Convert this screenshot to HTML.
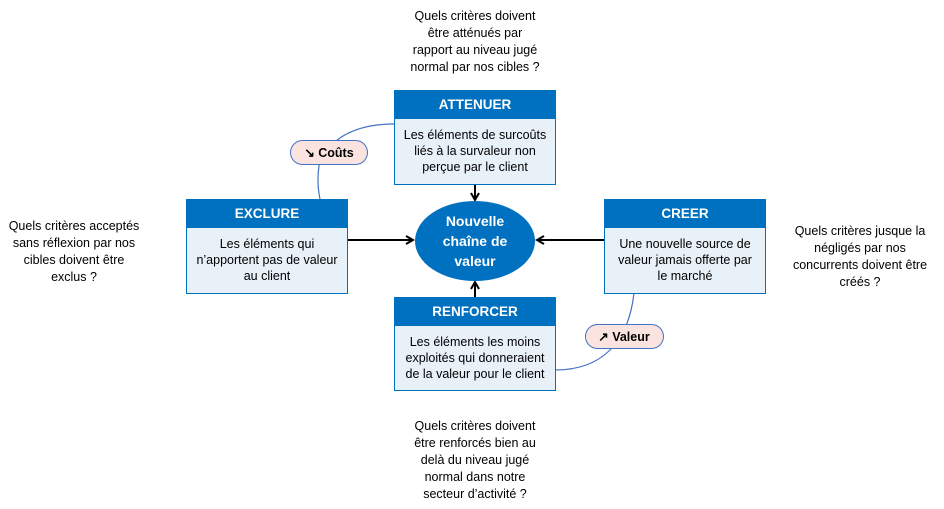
<!DOCTYPE html>
<html><head><meta charset="utf-8"><style>
html,body{margin:0;padding:0;background:#fff;}
svg{display:block;font-family:"Liberation Sans",sans-serif;}
.q{font-size:12.5px;fill:#000;text-anchor:middle;}
.h{font-size:13.5px;font-weight:bold;fill:#fff;text-anchor:middle;}
.b{font-size:12.5px;fill:#000;text-anchor:middle;}
</style></head><body>
<svg width="944" height="509" viewBox="0 0 944 509" xmlns="http://www.w3.org/2000/svg">
<defs><marker id="ar" markerWidth="10" markerHeight="10" refX="8" refY="5" orient="auto" markerUnits="userSpaceOnUse"><path d="M1,1 L8,5 L1,9" fill="none" stroke="#000" stroke-width="2"/></marker></defs>
<!-- curves -->
<path d="M394,124 Q340,124 320,160 Q316,180 320,199" fill="none" stroke="#4472c4" stroke-width="1.2"/>
<path d="M634,293 Q630,330 610,350 Q590,370 555,370" fill="none" stroke="#4472c4" stroke-width="1.2"/>
<!-- arrows -->
<line x1="475" y1="184" x2="475" y2="200" stroke="#000" stroke-width="2" marker-end="url(#ar)"/>
<line x1="475" y1="297" x2="475" y2="282" stroke="#000" stroke-width="2" marker-end="url(#ar)"/>
<line x1="347" y1="240" x2="413" y2="240" stroke="#000" stroke-width="2" marker-end="url(#ar)"/>
<line x1="604" y1="240" x2="537" y2="240" stroke="#000" stroke-width="2" marker-end="url(#ar)"/>
<!-- boxes -->
<g>
<rect x="394.5" y="90.5" width="161" height="94" fill="#e8f0f8" stroke="#0070c0"/>
<rect x="394.5" y="90.5" width="161" height="28" fill="#0070c0" stroke="#0070c0"/>
<text class="h" x="475" y="109">ATTENUER</text>
<text class="b" x="475" y="139">Les éléments de surcoûts</text>
<text class="b" x="475" y="155">liés à la survaleur non</text>
<text class="b" x="475" y="171">perçue par le client</text>
</g>
<g>
<rect x="186.5" y="199.5" width="161" height="94" fill="#e8f0f8" stroke="#0070c0"/>
<rect x="186.5" y="199.5" width="161" height="28" fill="#0070c0" stroke="#0070c0"/>
<text class="h" x="267" y="218">EXCLURE</text>
<text class="b" x="267" y="248">Les éléments qui</text>
<text class="b" x="267" y="264">n’apportent pas de valeur</text>
<text class="b" x="267" y="280">au client</text>
</g>
<g>
<rect x="604.5" y="199.5" width="161" height="94" fill="#e8f0f8" stroke="#0070c0"/>
<rect x="604.5" y="199.5" width="161" height="28" fill="#0070c0" stroke="#0070c0"/>
<text class="h" x="685" y="218">CREER</text>
<text class="b" x="685" y="248">Une nouvelle source de</text>
<text class="b" x="685" y="264">valeur jamais offerte par</text>
<text class="b" x="685" y="280">le marché</text>
</g>
<g>
<rect x="394.5" y="297.5" width="161" height="93" fill="#e8f0f8" stroke="#0070c0"/>
<rect x="394.5" y="297.5" width="161" height="28" fill="#0070c0" stroke="#0070c0"/>
<text class="h" x="475" y="316">RENFORCER</text>
<text class="b" x="475" y="346">Les éléments les moins</text>
<text class="b" x="475" y="362">exploités qui donneraient</text>
<text class="b" x="475" y="378">de la valeur pour le client</text>
</g>
<!-- ellipse -->
<ellipse cx="475" cy="241" rx="60" ry="40" fill="#0070c0"/>
<text class="h" x="475" y="226" style="font-size:14px">Nouvelle</text>
<text class="h" x="475" y="246" style="font-size:14px">chaîne de</text>
<text class="h" x="475" y="266" style="font-size:14px">valeur</text>
<!-- pills -->
<rect x="290.5" y="140.5" width="77" height="24" rx="12" fill="#fbe4df" stroke="#4472c4"/>
<text x="329" y="157" style="font-size:12.5px;font-weight:bold;text-anchor:middle">↘ Coûts</text>
<rect x="585.5" y="324.5" width="78" height="24" rx="12" fill="#fbe4df" stroke="#4472c4"/>
<text x="624" y="341" style="font-size:12.5px;font-weight:bold;text-anchor:middle">↗ Valeur</text>
<!-- questions -->
<text class="q" x="475" y="20">Quels critères doivent</text>
<text class="q" x="475" y="37">être atténués par</text>
<text class="q" x="475" y="54">rapport au niveau jugé</text>
<text class="q" x="475" y="71">normal par nos cibles ?</text>
<text class="q" x="74" y="230">Quels critères acceptés</text>
<text class="q" x="74" y="247">sans réflexion par nos</text>
<text class="q" x="74" y="264">cibles doivent être</text>
<text class="q" x="74" y="281">exclus ?</text>
<text class="q" x="860" y="235">Quels critères jusque la</text>
<text class="q" x="860" y="252">négligés par nos</text>
<text class="q" x="860" y="269">concurrents doivent être</text>
<text class="q" x="860" y="286">créés ?</text>
<text class="q" x="475" y="430">Quels critères doivent</text>
<text class="q" x="475" y="447">être renforcés bien au</text>
<text class="q" x="475" y="464">delà du niveau jugé</text>
<text class="q" x="475" y="481">normal dans notre</text>
<text class="q" x="475" y="498">secteur d’activité  ?</text>
</svg>
</body></html>
